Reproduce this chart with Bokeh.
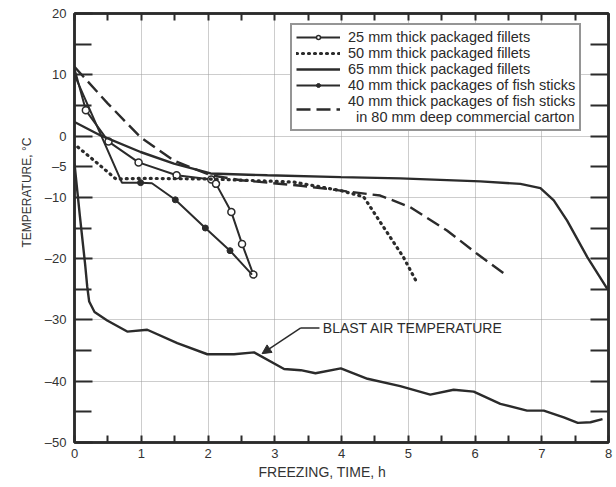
import math
from bokeh.plotting import figure
from bokeh.models import (Range1d, LinearAxis, FixedTicker, Legend, LegendItem,
                          Label, Arrow, NormalHead, Title)
from bokeh.embed import file_html
from bokeh.resources import INLINE

# ---------------- data ----------------
x_25mm = [0, 0.17, 0.51, 0.96, 1.53, 2.05, 2.12, 2.35, 2.51, 2.68]
y_25mm = [11, 4.2, -0.9, -4.3, -6.4, -7.1, -7.8, -12.4, -17.6, -22.6]

x_50mm = [0.05, 0.35, 0.62, 1.0, 2.0, 2.53, 3.28, 3.99, 4.33, 4.53, 4.73, 4.93, 5.11]
y_50mm = [-1.8, -4.5, -7.0, -6.9, -7.0, -7.2, -7.5, -8.9, -9.9, -13.2, -16.5, -19.8, -23.5]

x_65mm = [0, 0.39, 0.99, 1.49, 2.04, 2.89, 3.99, 4.88, 6.08, 6.68, 6.98, 7.18, 7.38, 7.68, 7.98]
y_65mm = [2.3, 0.1, -2.6, -4.5, -6.1, -6.4, -6.7, -6.9, -7.4, -7.8, -8.5, -10.5, -13.8, -19.7, -24.9]

x_sticks = [0, 0.71, 0.99, 1.16, 1.51, 1.96, 2.33, 2.66]
y_sticks = [10, -7.6, -7.6, -7.7, -10.4, -15.0, -18.7, -22.6]
x_sticks_dots = [0.99, 1.51, 1.96, 2.33]
y_sticks_dots = [-7.6, -10.4, -15.0, -18.7]

x_carton = [0, 0.5, 0.99, 1.49, 2.04, 2.49, 3.39, 3.99, 4.58, 5.03, 5.58, 6.03, 6.43]
y_carton = [11.3, 5.3, -0.2, -4.0, -6.4, -7.2, -8.1, -8.9, -9.7, -11.6, -15.4, -19.2, -22.4]

x_blast = [0, 0.08, 0.16, 0.19, 0.22, 0.30, 0.49, 0.79, 1.09, 1.54, 1.99, 2.39, 2.69,
           3.14, 3.39, 3.61, 3.99, 4.39, 4.88, 5.33, 5.68, 5.98, 6.38, 6.78, 7.03,
           7.33, 7.54, 7.73, 7.91]
y_blast = [-4.5, -13, -21, -24.5, -27, -28.7, -30.1, -31.9, -31.6, -33.8, -35.6, -35.6, -35.3,
           -38.0, -38.2, -38.7, -37.9, -39.6, -40.8, -42.2, -41.4, -41.7, -43.7, -44.8, -44.8,
           -45.9, -46.8, -46.7, -46.2]

legend_labels = ["25 mm thick packaged fillets",
                 "50 mm thick packaged fillets",
                 "65 mm thick packaged fillets",
                 "40 mm thick packages of fish sticks",
                 "40 mm thick packages of fish sticks\n  in 80 mm deep commercial carton"]

x_ticks = [0, 1, 2, 3, 4, 5, 6, 7, 8]
x_minor = [0.5, 1.5, 2.5, 3.5, 4.5, 5.5, 6.5, 7.5]
y_ticks = [-50, -40, -30, -20, -10, -5, 0, 10, 20]
y_minor = [-45, -35, -25, -15, 5, 15]
y_grid = [-40, -30, -20, -10, 0, 10]
x_grid = [1, 2, 3, 4, 5, 6, 7]

annot_text = "BLAST AIR TEMPERATURE"
annot_leader_x = [3.67, 3.39]
annot_leader_y = [-31.3, -31.3]
annot_head = (2.81, -35.5)
annot_text_pos = (3.72, -31.3)

x_title = "FREEZING, TIME, h"
y_title = "TEMPERATURE, °C"

# ---------------- styling ----------------
INK = "#2b2b2b"
FONT = "Liberation Sans"

p = figure(width=616, height=487, output_backend="svg", toolbar_location=None,
           x_range=Range1d(0, 8), y_range=Range1d(-50, 20),
           min_border_left=74, min_border_right=8, min_border_top=13, min_border_bottom=45,
           background_fill_color="white", border_fill_color="white")
p.outline_line_color = INK
p.outline_line_width = 2.5

def minus(v):
    return ("\u2013" + str(abs(v))) if v < 0 else str(v)

# bottom axis
xa = p.xaxis[0]
xa.ticker = FixedTicker(ticks=x_ticks, minor_ticks=x_minor)
# left axis
ya = p.yaxis[0]
ya.ticker = FixedTicker(ticks=y_ticks, minor_ticks=y_minor)
ya.major_label_overrides = {v: minus(v) for v in y_ticks}

for ax in (xa, ya):
    ax.axis_line_color = INK
    ax.axis_line_width = 2.5
    ax.major_tick_line_color = INK
    ax.minor_tick_line_color = INK
    ax.major_tick_line_width = 2
    ax.minor_tick_line_width = 2
    ax.major_tick_out = 0
    ax.minor_tick_out = 0
    ax.major_label_text_font = FONT
    ax.major_label_text_font_size = "13px"
    ax.major_label_text_color = "#333333"
xa.major_tick_in = 7
xa.minor_tick_in = 7
xa.major_label_standoff = 6
ya.major_tick_in = 18
ya.minor_tick_in = 17
ya.major_label_standoff = 8

# top and right axes (ticks only, no labels)
top = LinearAxis(ticker=FixedTicker(ticks=x_ticks, minor_ticks=x_minor))
right = LinearAxis(ticker=FixedTicker(ticks=y_ticks, minor_ticks=y_minor))
top.major_label_overrides = {v: "" for v in x_ticks}
right.major_label_overrides = {v: "" for v in y_ticks}
for ax, tin in ((top, 7), (right, 18)):
    ax.axis_line_color = INK
    ax.axis_line_width = 2.5
    ax.major_tick_line_color = INK
    ax.minor_tick_line_color = INK
    ax.major_tick_line_width = 2
    ax.minor_tick_line_width = 2
    ax.major_tick_out = 0
    ax.minor_tick_out = 0
    ax.major_tick_in = tin
    ax.minor_tick_in = tin
    ax.major_label_standoff = 0
p.add_layout(top, "above")
p.add_layout(right, "right")

# grids
p.xgrid.ticker = FixedTicker(ticks=x_grid)
p.ygrid.ticker = FixedTicker(ticks=y_grid)
for g in (p.xgrid[0], p.ygrid[0]):
    g.grid_line_color = "#9a9a9a"
    g.grid_line_width = 1
    g.grid_line_dash = "1 1"

# curves
r25 = p.line(x_25mm, y_25mm, line_color=INK, line_width=2)
r25p = p.scatter(x_25mm[1:], y_25mm[1:], marker="circle", size=7,
                 fill_color="white", line_color=INK, line_width=1.5)
r50 = p.line(x_50mm, y_50mm, line_color=INK, line_width=3.2, line_dash="1 5", line_cap="round")
r65 = p.line(x_65mm, y_65mm, line_color=INK, line_width=2.4)
rst = p.line(x_sticks, y_sticks, line_color=INK, line_width=2)
rstp = p.scatter(x_sticks_dots, y_sticks_dots, marker="circle", size=6,
                 fill_color=INK, line_color=INK)
rct = p.line(x_carton, y_carton, line_color=INK, line_width=2.4, line_dash="14 6")
rbl = p.line(x_blast, y_blast, line_color=INK, line_width=2.4)

# annotation with arrow
p.line(annot_leader_x, annot_leader_y, line_color=INK, line_width=1.5)
p.add_layout(Arrow(x_start=annot_leader_x[-1], y_start=annot_leader_y[-1],
                   x_end=annot_head[0], y_end=annot_head[1],
                   line_color=INK, line_width=1.5,
                   end=NormalHead(size=9, fill_color=INK, line_color=INK)))
p.add_layout(Label(x=annot_text_pos[0], y=annot_text_pos[1], text=annot_text,
                   text_font=FONT, text_font_size="14px", text_color=INK,
                   text_baseline="middle", text_align="left"))

# axis titles (as side titles so they can be offset like the reference)
p.add_layout(Title(text=x_title, align="left", offset=184, standoff=2,
                   text_font=FONT, text_font_size="14px", text_font_style="normal",
                   text_color="#333333"), "below")
p.add_layout(Title(text=y_title, align="left", offset=195, standoff=12,
                   vertical_align="top",
                   text_font=FONT, text_font_size="12px", text_font_style="normal",
                   text_color="#333333"), "left")

# legend
legend = Legend(items=[
    LegendItem(label=legend_labels[0], renderers=[r25, r25p]),
    LegendItem(label=legend_labels[1], renderers=[r50]),
    LegendItem(label=legend_labels[2], renderers=[r65]),
    LegendItem(label=legend_labels[3], renderers=[rst, rstp]),
    LegendItem(label=legend_labels[4], renderers=[rct]),
], location=(216, 311))
legend.border_line_color = INK
legend.border_line_width = 2
legend.background_fill_color = "white"
legend.background_fill_alpha = 1
legend.label_text_font = FONT
legend.label_text_font_size = "14.5px"
legend.label_text_line_height = 0.82
legend.label_text_color = INK
legend.glyph_width = 44
legend.glyph_height = 10
legend.label_height = 10
legend.label_standoff = 8
legend.spacing = 0
legend.padding = 4
legend.margin = 0
p.add_layout(legend)

open("out.html", "w").write(file_html(p, INLINE))
